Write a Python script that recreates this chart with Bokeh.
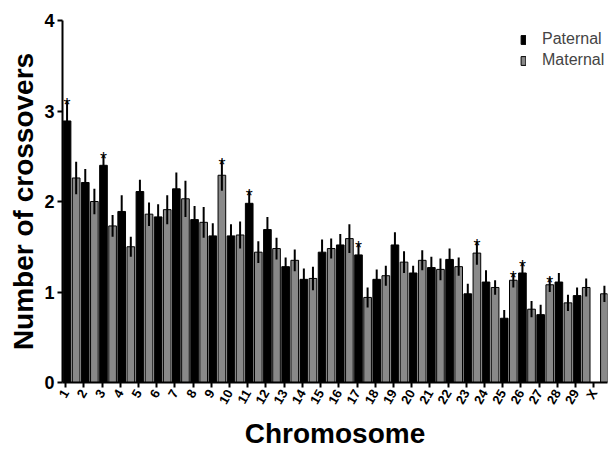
from math import pi
from bokeh.plotting import figure
from bokeh.models import ColumnDataSource, FixedTicker, Range1d, Legend, LegendItem
from bokeh.transform import dodge
from bokeh.embed import file_html
from bokeh.resources import INLINE

chromosomes = [str(i) for i in range(1, 30)] + ["X"]
paternal = [2.89, 2.21, 2.40, 1.89, 2.11, 1.83, 2.14, 1.80, 1.62, 1.62,
            1.98, 1.69, 1.28, 1.14, 1.44, 1.52, 1.41, 1.14, 1.52, 1.21,
            1.27, 1.36, 0.98, 1.11, 0.71, 1.21, 0.75, 1.11, 0.96, 0.0]
paternal_err = [0.23, 0.15, 0.12, 0.18, 0.13, 0.14, 0.18, 0.15, 0.14, 0.13,
                0.14, 0.14, 0.10, 0.12, 0.14, 0.12, 0.13, 0.11, 0.14, 0.08,
                0.12, 0.12, 0.11, 0.13, 0.09, 0.12, 0.11, 0.10, 0.09, 0.0]
maternal = [2.26, 2.00, 1.73, 1.50, 1.86, 1.91, 2.03, 1.77, 2.29, 1.63,
            1.44, 1.48, 1.35, 1.15, 1.48, 1.59, 0.94, 1.18, 1.33, 1.35,
            1.25, 1.28, 1.43, 1.05, 1.13, 0.81, 1.08, 0.88, 1.05, 0.98]
maternal_err = [0.18, 0.14, 0.12, 0.11, 0.13, 0.16, 0.20, 0.17, 0.17, 0.15,
                0.12, 0.12, 0.12, 0.13, 0.11, 0.16, 0.11, 0.11, 0.12, 0.11,
                0.12, 0.10, 0.13, 0.08, 0.08, 0.09, 0.08, 0.09, 0.10, 0.09]
paternal_sig = ["1", "3", "11", "17", "26"]
maternal_sig = ["9", "23", "25", "27"]

FONT = "Liberation Sans"
GRAY = "#898989"
P_OFF, M_OFF, BAR_W = 0.08, 0.58, 0.42

idx = list(range(len(chromosomes)))
src = ColumnDataSource(dict(
    idx=idx,
    pat=paternal,
    pat_lo=[v - e for v, e in zip(paternal, paternal_err)],
    pat_hi=[v + e for v, e in zip(paternal, paternal_err)],
    mat=maternal,
    mat_lo=[v - e for v, e in zip(maternal, maternal_err)],
    mat_hi=[v + e for v, e in zip(maternal, maternal_err)],
))

pi_idx = [chromosomes.index(c) for c in paternal_sig]
mi_idx = [chromosomes.index(c) for c in maternal_sig]
star_p = ColumnDataSource(dict(idx=pi_idx, y=[paternal[i] + paternal_err[i] for i in pi_idx],
                               t=["*"] * len(pi_idx)))
star_m = ColumnDataSource(dict(idx=mi_idx, y=[maternal[i] + maternal_err[i] for i in mi_idx],
                               t=["*"] * len(mi_idx)))

p = figure(width=608, height=452, output_backend="svg", toolbar_location=None,
           x_range=Range1d(-0.17, 29.75), y_range=Range1d(0, 4),
           min_border_left=62, min_border_right=1, min_border_top=20, min_border_bottom=70)
p.outline_line_color = None
p.grid.visible = False
p.background_fill_color = "white"

rp = p.vbar(x=dodge("idx", P_OFF), top="pat", width=BAR_W, source=src,
            fill_color="black", line_color="black", line_width=1)
rm = p.vbar(x=dodge("idx", M_OFF), top="mat", width=BAR_W, source=src,
            fill_color=GRAY, line_color="black", line_width=1)
p.segment(x0=dodge("idx", P_OFF), y0="pat_lo", x1=dodge("idx", P_OFF), y1="pat_hi",
          source=src, line_color="black", line_width=2)
p.segment(x0=dodge("idx", M_OFF), y0="mat_lo", x1=dodge("idx", M_OFF), y1="mat_hi",
          source=src, line_color="black", line_width=2)

for s, off in ((star_p, P_OFF), (star_m, M_OFF)):
    p.text(x=dodge("idx", off), y="y", text="t", source=s, text_align="center",
           text_baseline="alphabetic", y_offset=5, text_font_size="18px",
           text_font={"value": FONT}, text_color="black")

# axes
for ax in (p.xaxis[0], p.yaxis[0]):
    ax.axis_line_width = 2
    ax.axis_line_color = "black"
    ax.major_tick_line_width = 2
    ax.major_tick_line_color = "black"
    ax.major_tick_out = 5
    ax.major_tick_in = 0
    ax.minor_tick_line_color = None
    ax.major_label_text_font = FONT
    ax.major_label_text_font_style = "bold"
    ax.major_label_text_color = "black"
    ax.axis_label_text_font = FONT
    ax.axis_label_text_font_style = "bold"
    ax.axis_label_text_color = "black"
    ax.axis_label_text_font_size = "28px"

p.yaxis.ticker = FixedTicker(ticks=[0, 1, 2, 3, 4])
p.yaxis.major_label_text_font_size = "18px"
p.yaxis.major_label_standoff = 3
p.yaxis.axis_label = "Number of crossovers"
p.yaxis.axis_label_standoff = 2

p.xaxis.ticker = FixedTicker(ticks=idx)
p.xaxis.major_label_overrides = {i: c for i, c in zip(idx, chromosomes)}
p.xaxis.major_label_orientation = pi / 3
p.xaxis.major_label_text_font_size = "13px"
p.xaxis.major_label_standoff = 3
p.xaxis.axis_label = "Chromosome"
p.xaxis.axis_label_standoff = 4

legend = Legend(items=[LegendItem(label="Paternal", renderers=[rp]),
                       LegendItem(label="Maternal", renderers=[rm])],
                location=(458, 313), glyph_width=6, glyph_height=11,
                label_text_font=FONT, label_text_font_size="16px",
                label_standoff=16, spacing=3, padding=0, margin=0,
                border_line_color=None, background_fill_alpha=0)
p.add_layout(legend)

open("out.html", "w").write(file_html(p, INLINE))
